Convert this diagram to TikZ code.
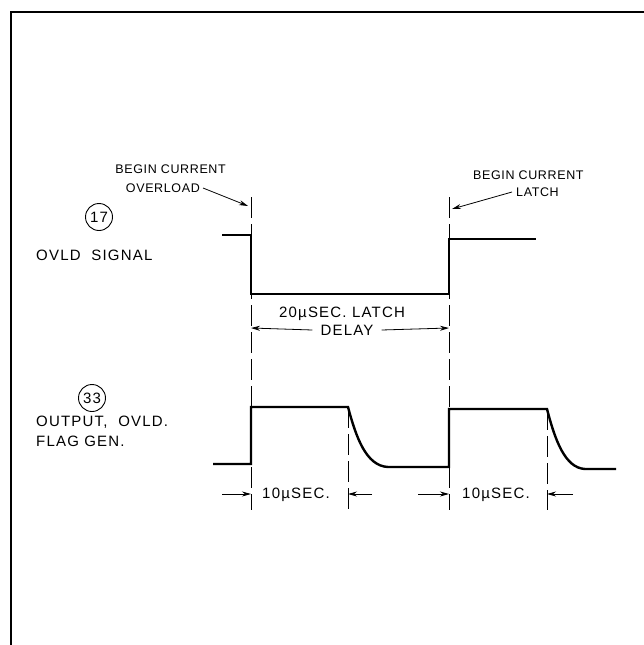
\documentclass[tikz,border=0pt]{standalone}
\usepackage{fontspec}
\newfontfamily\lettering[LetterSpace=8]{Liberation Sans}
\newfontfamily\smalllettering[LetterSpace=5]{Liberation Sans}
\usetikzlibrary{arrows.meta}

\begin{document}
\begin{tikzpicture}[x=1pt, y=-1pt,
    every node/.style={font=\lettering\fontsize{15}{17}\selectfont, inner sep=1pt},
    note/.style={font=\smalllettering\fontsize{12.5}{15}\selectfont},
    wave/.style={line width=2.4pt, line join=miter},
    guide/.style={line width=0.8pt, dash pattern=on 21pt off 6pt},
    dimarrow/.style={line width=0.8pt, -{Stealth[length=9pt,width=5pt]}},
    tag/.style={draw, circle, line width=0.9pt, minimum size=27pt, inner sep=0pt}]
    \useasboundingbox (0,0) rectangle (644,645);

    % Frame
    \draw[line width=2.4pt] (644,12) -- (11,12) -- (11,645);

    % Signal names
    \node[tag] (tag17) at (99,217) {17};
    \node[anchor=west] (ovldname) at (35,255) {OVLD\ \ SIGNAL};
    \node[tag] (tag33) at (92,398) {33};
    \node[anchor=west] (outname) at (35,422) {OUTPUT,\ \ OVLD.};
    \node[anchor=west] (flagname) at (35,441) {FLAG GEN.};

    % Edge guide lines
    \coordinate (g1top) at (251,197);
    \coordinate (g1bot) at (251,510);
    \coordinate (g2top) at (449,197);
    \coordinate (g2bot) at (449,510);
    \coordinate (g3top) at (348,407);
    \coordinate (g3bot) at (348,510);
    \coordinate (g4top) at (547,409);
    \coordinate (g4bot) at (547,510);
    \draw[guide] (g1top) -- (g1bot);
    \draw[guide] (g2top) -- (g2bot);
    \draw[guide] (g3top) -- (g3bot);
    \draw[guide] (g4top) -- (g4bot);

    % OVLD signal
    \draw[wave] (222,235) -- (251,235) -- (251,294) -- (449,294) -- (449,239) -- (536,239);

    % Output, OVLD. flag gen.
    \draw[wave] (213,464) -- (251,464) -- (251,407) -- (348,407)
        .. controls (356,437) and (366,466) .. (388,467) -- (449,467) -- (449,409) -- (547,409)
        .. controls (555,440) and (565,468) .. (585,469) -- (616,469);

    % Event labels
    \node[note, anchor=east] (begin1) at (227,169) {BEGIN CURRENT};
    \node[note, anchor=east, inner xsep=3pt] (overload) at (203,188) {OVERLOAD};
    \coordinate (hit1) at (248,206);
    \draw[dimarrow] (overload.east) -- (hit1);
    \node[note, anchor=west] (begin2) at (472,175) {BEGIN CURRENT};
    \node[note, anchor=west, inner xsep=4pt] (latch) at (512,192) {LATCH};
    \coordinate (hit2) at (452,209);
    \draw[dimarrow] (latch.west) -- (hit2);

    % Latch delay
    \node (latchtxt) at (342,314) {20µSEC. LATCH};
    \node[inner xsep=8pt] (delay) at (347,330) {DELAY};
    \coordinate (d1) at (251,328);
    \coordinate (d2) at (449,328);
    \draw[dimarrow] (delay.west) -- (d1);
    \draw[dimarrow] (delay.east) -- (d2);

    % Flag widths
    \node (width1) at (296,495) {10µSEC.};
    \node (width2) at (496,495) {10µSEC.};
    \coordinate (w1a) at (222,494);
    \coordinate (w1b) at (251,494);
    \coordinate (w1c) at (372,494);
    \coordinate (w1d) at (348,494);
    \coordinate (w2a) at (418,494);
    \coordinate (w2b) at (449,494);
    \coordinate (w2c) at (573,494);
    \coordinate (w2d) at (547,494);
    \draw[dimarrow] (w1a) -- (w1b);
    \draw[dimarrow] (w1c) -- (w1d);
    \draw[dimarrow] (w2a) -- (w2b);
    \draw[dimarrow] (w2c) -- (w2d);
\end{tikzpicture}
\end{document}
